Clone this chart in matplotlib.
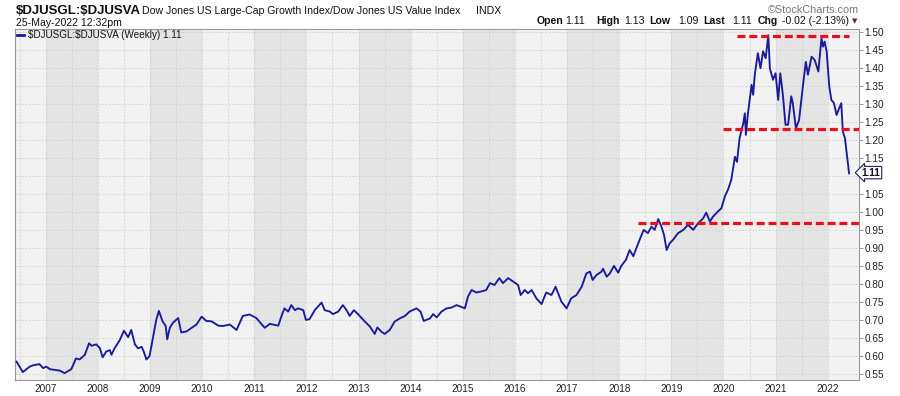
import matplotlib
matplotlib.use('Agg')
import matplotlib.pyplot as plt
import numpy as np

# ---------------- data (decimal years, weekly ratio) -------------
years_a = [2006.44, 2006.56, 2006.69, 2006.76, 2006.88, 2006.95, 2007.01, 2007.08, 2007.17, 2007.27,
           2007.36, 2007.49, 2007.58, 2007.65, 2007.75, 2007.83, 2007.88, 2007.97, 2008.04, 2008.09,
           2008.16, 2008.23, 2008.26, 2008.32, 2008.42, 2008.50, 2008.58, 2008.64, 2008.71, 2008.77,
           2008.84, 2008.88, 2008.93, 2008.99, 2009.06, 2009.12, 2009.17, 2009.24, 2009.30, 2009.33,
           2009.38, 2009.44, 2009.54, 2009.60, 2009.70, 2009.80, 2009.89, 2009.99, 2010.08, 2010.18,
           2010.31, 2010.40, 2010.53, 2010.66, 2010.78, 2010.91, 2011.04, 2011.20, 2011.30, 2011.46,
           2011.54]
ratio_a = [0.585, 0.556, 0.571, 0.575, 0.578, 0.567, 0.571, 0.564, 0.562, 0.560,
           0.553, 0.564, 0.594, 0.591, 0.604, 0.636, 0.629, 0.633, 0.622, 0.597,
           0.613, 0.617, 0.604, 0.622, 0.645, 0.671, 0.653, 0.673, 0.633, 0.622,
           0.626, 0.613, 0.591, 0.600, 0.654, 0.701, 0.726, 0.697, 0.684, 0.647,
           0.679, 0.693, 0.706, 0.666, 0.669, 0.679, 0.688, 0.710, 0.698, 0.697,
           0.685, 0.684, 0.688, 0.673, 0.712, 0.716, 0.706, 0.679, 0.690, 0.685,
           0.719]

years_b = [2011.58, 2011.65, 2011.71, 2011.78, 2011.84, 2011.94, 2011.99, 2012.06, 2012.16, 2012.29,
           2012.35, 2012.45, 2012.51, 2012.61, 2012.70, 2012.77, 2012.83, 2012.91, 2012.99, 2013.09,
           2013.22, 2013.31, 2013.36, 2013.44, 2013.50, 2013.60, 2013.69, 2013.79, 2013.89, 2013.98,
           2014.11, 2014.19, 2014.25, 2014.37, 2014.43, 2014.50, 2014.59, 2014.69, 2014.78, 2014.88,
           2014.97, 2015.04, 2015.10, 2015.17, 2015.26, 2015.36, 2015.45, 2015.52, 2015.61, 2015.70,
           2015.77, 2015.87, 2015.96, 2016.06, 2016.11, 2016.19, 2016.25, 2016.32, 2016.41, 2016.51,
           2016.60, 2016.70, 2016.78, 2016.89, 2016.99]
ratio_b = [0.733, 0.724, 0.742, 0.728, 0.733, 0.728, 0.701, 0.703, 0.728, 0.749,
           0.728, 0.724, 0.717, 0.724, 0.742, 0.728, 0.712, 0.728, 0.717, 0.701,
           0.682, 0.662, 0.680, 0.668, 0.662, 0.673, 0.696, 0.705, 0.712, 0.724,
           0.733, 0.724, 0.698, 0.705, 0.717, 0.708, 0.724, 0.733, 0.735, 0.742,
           0.737, 0.733, 0.766, 0.784, 0.777, 0.780, 0.784, 0.803, 0.798, 0.817,
           0.803, 0.817, 0.808, 0.798, 0.770, 0.784, 0.775, 0.784, 0.761, 0.745,
           0.777, 0.770, 0.793, 0.752, 0.733]

years_c = [2017.08, 2017.18, 2017.28, 2017.37, 2017.44, 2017.49, 2017.56, 2017.66, 2017.69, 2017.76,
           2017.82, 2017.90, 2017.98, 2018.04, 2018.13, 2018.20, 2018.27, 2018.34, 2018.39, 2018.47,
           2018.55, 2018.62, 2018.68, 2018.75, 2018.81, 2018.86, 2018.91, 2018.97, 2019.03, 2019.13,
           2019.23, 2019.32, 2019.42, 2019.51, 2019.61, 2019.67, 2019.74, 2019.80, 2019.90, 2019.96]
ratio_c = [0.761, 0.770, 0.793, 0.830, 0.835, 0.812, 0.825, 0.835, 0.843, 0.821,
           0.830, 0.851, 0.832, 0.851, 0.868, 0.895, 0.878, 0.904, 0.923, 0.951,
           0.942, 0.960, 0.951, 0.981, 0.960, 0.937, 0.895, 0.914, 0.923, 0.942,
           0.951, 0.965, 0.951, 0.969, 0.983, 0.999, 0.974, 0.988, 1.003, 1.011]

years_d = [2020.03, 2020.09, 2020.15, 2020.22, 2020.26, 2020.31, 2020.38, 2020.41, 2020.43, 2020.47,
           2020.54, 2020.57, 2020.60, 2020.66, 2020.71, 2020.76, 2020.81, 2020.86, 2020.89, 2020.95,
           2021.00, 2021.05, 2021.09, 2021.14, 2021.19, 2021.24, 2021.30, 2021.33, 2021.39, 2021.45,
           2021.53, 2021.58, 2021.62, 2021.69, 2021.75, 2021.82, 2021.88, 2021.91, 2021.94, 2021.98,
           2022.03, 2022.07, 2022.12, 2022.17, 2022.22, 2022.26, 2022.29, 2022.33, 2022.41]
ratio_d = [1.045, 1.064, 1.090, 1.154, 1.140, 1.206, 1.247, 1.275, 1.215, 1.275,
           1.354, 1.326, 1.381, 1.442, 1.400, 1.447, 1.428, 1.492, 1.400, 1.368,
           1.386, 1.312, 1.386, 1.326, 1.243, 1.243, 1.322, 1.303, 1.233, 1.256,
           1.358, 1.418, 1.382, 1.432, 1.423, 1.391, 1.483, 1.460, 1.474, 1.446,
           1.349, 1.312, 1.303, 1.270, 1.289, 1.303, 1.224, 1.206, 1.108]

# horizontal dashed red support / resistance lines
line_levels = [1.49, 1.23, 0.97]
line_start = [2020.26, 2019.99, 2018.36]
line_end = [2022.40, 2022.60, 2022.60]

year_ticks = list(range(2007, 2023))
y_ticks = [0.55, 0.60, 0.65, 0.70, 0.75, 0.80, 0.85, 0.90, 0.95, 1.00,
           1.05, 1.10, 1.15, 1.20, 1.25, 1.30, 1.35, 1.40, 1.45, 1.50]
last_value = 1.11

years = years_a + years_b + years_c + years_d
ratio = ratio_a + ratio_b + ratio_c + ratio_d

# ---------------- figure -------------
plt.rcParams['font.family'] = ['Liberation Sans', 'DejaVu Sans']
W, H = 900, 396
fig = plt.figure(figsize=(W / 100, H / 100), dpi=100)
fig.patch.set_facecolor('white')
ax = fig.add_axes([15 / W, 16 / H, 844 / W, 351 / H])

x0, x1 = 2006.41, 2022.60
ax.set_xlim(x0, x1)
ax.set_ylim(0.534, 1.509)
ax.set_facecolor('#f2f2f2')

for yr in year_ticks:
    if yr % 2 == 1:
        ax.axvspan(yr, yr + 1, color='#e4e4e4', lw=0, zorder=0)

ax.set_xticks(year_ticks)
ax.set_xticklabels([str(y) for y in year_ticks])
ax.set_xticks([y + 0.5 for y in [2006] + year_ticks[:-1]], minor=True)
ax.set_yticks(y_ticks)
# the label under the last-value tag is hidden, as in the original
ax.set_yticklabels(['' if abs(v - 1.10) < 1e-9 else '%.2f' % v for v in y_ticks])
ax.yaxis.tick_right()
ax.tick_params(axis='y', which='both', length=3, width=0.6, color='#888888',
               labelsize=7.2, labelcolor='#222222', pad=1)
ax.tick_params(axis='x', which='both', length=0, labelsize=7.2, labelcolor='#222222', pad=3)
ax.grid(True, which='both', axis='x', color='#cfcfcf', lw=0.6, ls=(0, (2, 2)), zorder=1)
ax.grid(True, which='major', axis='y', color='#cfcfcf', lw=0.6, ls=(0, (2, 2)), zorder=1)
ax.set_axisbelow(True)
for s in ax.spines.values():
    s.set_color('#999999')
    s.set_linewidth(0.8)

ax.plot(years, ratio, color='#1a1a9c', lw=1.35, zorder=3, solid_joinstyle='round')

for lv, xs, xe in zip(line_levels, line_start, line_end):
    ax.plot([xs, xe], [lv, lv], color='#e8101a', lw=2.3, dashes=(2.5, 1.2), zorder=4,
            solid_capstyle='butt', dash_capstyle='butt')

# legend inside plot
ax.plot([0.0025, 0.011], [0.983, 0.983], transform=ax.transAxes, color='#1a1a9c', lw=2, zorder=5)
ax.text(0.015, 0.983, r'\$DJUSGL:\$DJUSVA (Weekly) 1.11', transform=ax.transAxes,
        fontsize=7.1, va='center', ha='left', color='#111111', zorder=5)

# last value tag
ax.annotate('%.2f' % last_value, xy=(1.0, last_value), xycoords=('axes fraction', 'data'),
            xytext=(2, 0), textcoords='offset points', ha='left', va='center',
            fontsize=7.2, fontweight='bold', color='#111111',
            bbox=dict(boxstyle='larrow,pad=0.12', fc='white', ec='#1c1c6c', lw=0.8),
            annotation_clip=False)

# ---------------- header texts -------------
def px(x, y):
    return x / W, 1 - y / H

fig.text(*px(16, 11), r'\$DJUSGL:\$DJUSVA', fontsize=9.5, fontweight='bold',
         va='center', ha='left', color='#111111')
fig.text(*px(142, 11), 'Dow Jones US Large-Cap Growth Index/Dow Jones US Value Index',
         fontsize=7.6, va='center', ha='left', color='#111111')
fig.text(*px(476, 11), 'INDX', fontsize=7.6, va='center', ha='left', color='#111111')
fig.text(*px(16, 23), '25-May-2022 12:32pm', fontsize=7.6, va='center', ha='left',
         color='#111111')
fig.text(*px(859, 10), '\u00a9StockCharts.com', fontsize=7.8, va='center', ha='right',
         color='#777777')

ohlc = [(537, 'Open', True), (565, '1.11', False), (596, 'High', True), (624, '1.13', False),
        (649, 'Low', True), (678, '1.09', False), (703, 'Last', True), (732, '1.11', False),
        (758, 'Chg', True), (782, '-0.02 (-2.13%)', False)]
for xp, t, b in ohlc:
    fig.text(*px(xp, 21), t, fontsize=7.6, fontweight='bold' if b else 'normal',
             va='center', ha='left', color='#111111')
fig.text(*px(855, 21), '\u25bc', fontsize=5, va='center', ha='center', color='#8b1538',
         family='DejaVu Sans')

fig.savefig('out.png', dpi=100, facecolor='white')
